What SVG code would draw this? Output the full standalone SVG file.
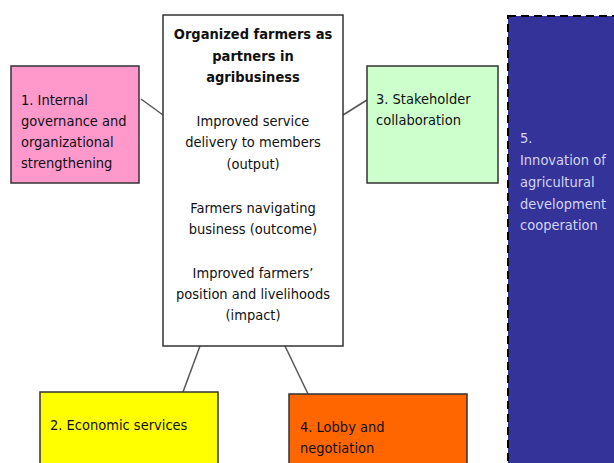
<svg xmlns="http://www.w3.org/2000/svg" width="614" height="463" viewBox="0 0 614 463">
<style>
.box{stroke:#333;stroke-width:1.5}
.t{font-family:"DejaVu Sans Condensed","DejaVu Sans",sans-serif;font-size:14.5px;fill:#111}
.c{text-anchor:middle}
.b{font-weight:bold}
.w{fill:#d4d4f4}
.ln{stroke:#555;stroke-width:1.5;fill:none}
</style>
<rect width="614" height="463" fill="#fff"/>
<g id="connectors">
<line class="ln" x1="141" y1="99" x2="163" y2="115"/>
<line class="ln" x1="343" y1="115" x2="367" y2="100"/>
<line class="ln" x1="200" y1="346" x2="183" y2="392"/>
<line class="ln" x1="285" y1="346" x2="308" y2="394"/>
</g>
<g id="n5">
<rect x="508" y="16" width="120" height="460" fill="#333399" stroke="#000" stroke-width="2" stroke-dasharray="8,5"/>
<text class="t w" x="520"><tspan x="520" y="143">5.</tspan><tspan x="520" y="165">Innovation of</tspan><tspan x="520" y="187">agricultural</tspan><tspan x="520" y="209">development</tspan><tspan x="520" y="230">cooperation</tspan></text>
</g>
<g id="center">
<rect class="box" x="163" y="15" width="180" height="331" fill="#fff"/>
<text class="t c b" x="253"><tspan x="253" y="39">Organized farmers as</tspan><tspan x="253" y="61">partners in</tspan><tspan x="253" y="82">agribusiness</tspan></text>
<text class="t c" x="253"><tspan x="253" y="126">Improved service</tspan><tspan x="253" y="147">delivery to members</tspan><tspan x="253" y="169">(output)</tspan><tspan x="253" y="213">Farmers navigating</tspan><tspan x="253" y="234">business (outcome)</tspan><tspan x="253" y="278">Improved farmers’</tspan><tspan x="253" y="299">position and livelihoods</tspan><tspan x="253" y="320">(impact)</tspan></text>
</g>
<g id="n1">
<rect class="box" x="11" y="66" width="128" height="117" fill="#ff99cc"/>
<text class="t"><tspan x="21" y="105">1. Internal</tspan><tspan x="21" y="126">governance and</tspan><tspan x="21" y="147">organizational</tspan><tspan x="21" y="168">strengthening</tspan></text>
</g>
<g id="n3">
<rect class="box" x="367" y="66" width="131" height="117" fill="#ccffcc"/>
<text class="t"><tspan x="376" y="104">3. Stakeholder</tspan><tspan x="376" y="125">collaboration</tspan></text>
</g>
<g id="n2">
<rect class="box" x="40" y="392" width="178" height="80" fill="#ffff00"/>
<text class="t" x="50" y="430">2. Economic services</text>
</g>
<g id="n4">
<rect class="box" x="289" y="394" width="178" height="80" fill="#ff6600"/>
<text class="t"><tspan x="300" y="432">4. Lobby and</tspan><tspan x="300" y="453">negotiation</tspan></text>
</g>
</svg>
